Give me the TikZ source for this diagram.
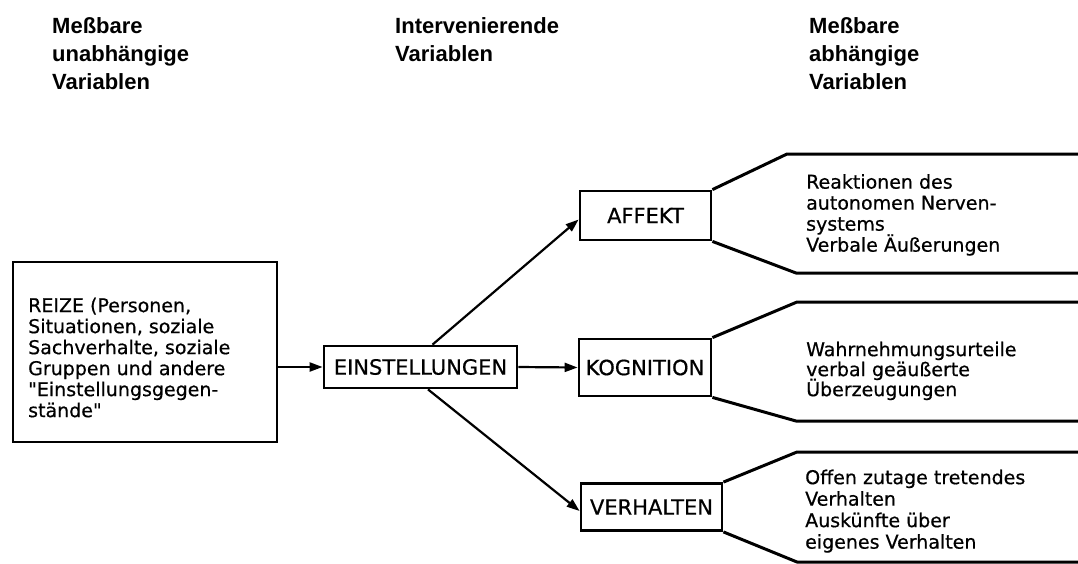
\documentclass[tikz,border=0pt]{standalone}
\usepackage{fontspec}
% plain families (no TeX ligature mapping, so " stays a straight quote)
\newfontfamily\bodyfont{DejaVu Sans}[FakeBold=0.6]
\newfontfamily\headfont{Liberation Sans}
\usetikzlibrary{arrows.meta}

\begin{document}
\begin{tikzpicture}[x=1pt,y=-1pt,
  heading/.style={anchor=north west, inner sep=0pt, align=left,
    font={\headfont\bfseries\fontsize{22}{27.75}\selectfont}},
  bodytext/.style={anchor=north west, inner sep=0pt, align=left,
    font={\bodyfont\fontsize{19}{21}\selectfont\lineskiplimit=-100pt}},
  box/.style={draw, line width=2.8pt, inner sep=0pt,
    font={\bodyfont\fontsize{21}{25}\selectfont}},
  link/.style={line width=2.2pt, -{Triangle[length=13pt,width=9pt]}},
  rim/.style={line width=3pt, line join=round}
]
\useasboundingbox (0,0) rectangle (1078,563);

% column headings
\node[heading] (h1) at (52,17.4) {Meßbare\\unabhängige\\Variablen};
\node[heading] (h2) at (395,17.4) {Intervenierende\\Variablen};
\node[heading] (h3) at (809,17.4) {Meßbare\\abhängige\\Variablen};

% stimulus box
\node[box, minimum width=264pt, minimum height=180pt] (R) at (145,352) {};
\node[bodytext] (Rt) at (28,297.5)
  {REIZE (Personen,\\Situationen, soziale\\Sachverhalte, soziale\\Gruppen und andere\\"Einstellungsgegen-\\stände"};

% intervening and dependent variables
\node[box, minimum width=193pt, minimum height=42pt] (E) at (420.5,367) {EINSTELLUNGEN};
\node[box, minimum width=131pt, minimum height=49pt] (A) at (645.5,215.5) {AFFEKT};
\node[box, minimum width=132pt, minimum height=57pt] (K) at (645,367.5) {KOGNITION};
\node[box, minimum width=141pt, minimum height=47pt] (V) at (651.5,507) {VERHALTEN};

% arrows
\draw[link] (R.east |- E.west) -- (E.west);
\draw[link] ([xshift=12pt]E.north) -- ([yshift=-4pt]A.west);
\draw[link] (E.east) -- (K.west);
\draw[link] ([xshift=7.5pt]E.south) -- ([yshift=-4pt]V.west);

% open brackets to the right
\coordinate (a1) at (787,154);  \coordinate (a2) at (1090,154);
\coordinate (a3) at (796,273);  \coordinate (a4) at (1090,273);
\coordinate (k1) at (797,302);  \coordinate (k2) at (1090,302);
\coordinate (k3) at (796,421);  \coordinate (k4) at (1090,421);
\coordinate (v1) at (797,452);  \coordinate (v2) at (1090,452);
\coordinate (v3) at (797,562);  \coordinate (v4) at (1090,562);
\draw[rim] (A.north east) -- (a1) -- (a2);
\draw[rim] (A.south east) -- (a3) -- (a4);
\draw[rim] (K.north east) -- (k1) -- (k2);
\draw[rim] (K.south east) -- (k3) -- (k4);
\draw[rim] (V.north east) -- (v1) -- (v2);
\draw[rim] (V.south east) -- (v3) -- (v4);

% measurable responses
\node[bodytext] (At) at (806,174)
  {Reaktionen des\\autonomen Nerven-\\systems\\Verbale Äußerungen};
\node[bodytext, font={\bodyfont\fontsize{19}{20}\selectfont\lineskiplimit=-100pt}] (Kt) at (806,341.5)
  {Wahrnehmungsurteile\\verbal geäußerte\\Überzeugungen};
\node[bodytext, font={\bodyfont\fontsize{19}{21.5}\selectfont\lineskiplimit=-100pt}] (Vt) at (805,469.5)
  {Offen zutage tretendes\\Verhalten\\Auskünfte über\\eigenes Verhalten};
\end{tikzpicture}
\end{document}
